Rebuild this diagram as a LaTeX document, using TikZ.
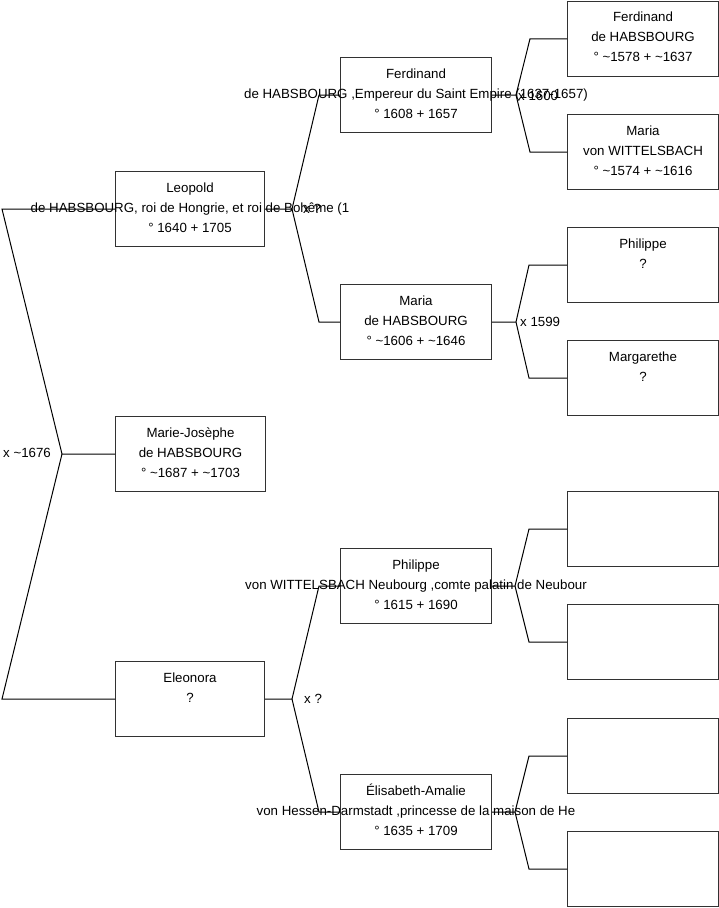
\documentclass[tikz,border=0pt]{standalone}
\usepackage{fontspec}
\setmainfont{Liberation Sans}
\definecolor{boxgray}{RGB}{50,50,50}
\newcommand\tld{\textasciitilde}
\newcommand\pbox[5]{\node[box, minimum width=#4pt, minimum height=#5pt] (#1) at (#2,#3) {};}
\newcommand\pthree[4]{%
  \node[txt] (#1-a) at ([yshift=-21pt]#1.north) {#2};
  \node[txt] (#1-b) at ([yshift=-41pt]#1.north) {#3};
  \node[txt] (#1-c) at ([yshift=-61pt]#1.north) {#4};}
\newcommand\ptwo[3]{%
  \node[txt] (#1-a) at ([yshift=-21pt]#1.north) {#2};
  \node[txt] (#1-b) at ([yshift=-41pt]#1.north) {#3};}
\begin{document}
\begin{tikzpicture}[x=1pt,y=-1pt,
  box/.style={draw=boxgray, line width=1pt, inner sep=0pt, anchor=north west},
  txt/.style={anchor=base, inner sep=0pt, font=\fontsize{13.3}{20}\selectfont, text=black},
  lbl/.style={anchor=base west, inner sep=0pt, font=\fontsize{13.3}{20}\selectfont, text=black},
  link/.style={draw=black, line width=1pt}]
\useasboundingbox (0,0) rectangle (719,908);
% boxes
\pbox{L1}{115}{171}{149}{75}
\pbox{L2}{115}{416}{150}{75}
\pbox{L3}{115}{661}{149}{75}
\pbox{M1}{340}{57}{151}{75}
\pbox{M2}{340}{284}{151}{75}
\pbox{M3}{340}{548}{151}{75}
\pbox{M4}{340}{774}{151}{75}
\pbox{R1}{567}{0.5}{151}{75.5}
\pbox{R2}{567}{114}{151}{75}
\pbox{R3}{567}{227}{151}{75}
\pbox{R4}{567}{340}{151}{75}
\pbox{R5}{567}{491}{151}{75}
\pbox{R6}{567}{604}{151}{75}
\pbox{R7}{567}{718}{151}{75}
\pbox{R8}{567}{831}{151}{75}
% connectors
\draw[link] (L1.west) -- ([xshift=-113pt]L1.west) -- ([xshift=-53pt]L2.west) -- (L2.west);
\draw[link] ([xshift=-53pt]L2.west) -- ([xshift=-113pt]L3.west) -- (L3.west);
\draw[link] (L1.east) -- ([xshift=27pt]L1.east) -- ([xshift=-21pt]M1.west) -- (M1.west);
\draw[link] ([xshift=27pt]L1.east) -- ([xshift=-21pt]M2.west) -- (M2.west);
\draw[link] (L3.east) -- ([xshift=27pt]L3.east) -- ([xshift=-21pt]M3.west) -- (M3.west);
\draw[link] ([xshift=27pt]L3.east) -- ([xshift=-21pt]M4.west) -- (M4.west);
\draw[link] (M1.east) -- ([xshift=24pt]M1.east) -- ([xshift=-37pt]R1.west) -- (R1.west);
\draw[link] ([xshift=24pt]M1.east) -- ([xshift=-37pt]R2.west) -- (R2.west);
\draw[link] (M2.east) -- ([xshift=24pt]M2.east) -- ([xshift=-38pt]R3.west) -- (R3.west);
\draw[link] ([xshift=24pt]M2.east) -- ([xshift=-38pt]R4.west) -- (R4.west);
\draw[link] (M3.east) -- ([xshift=23pt]M3.east) -- ([xshift=-38pt]R5.west) -- (R5.west);
\draw[link] ([xshift=23pt]M3.east) -- ([xshift=-38pt]R6.west) -- (R6.west);
\draw[link] (M4.east) -- ([xshift=23pt]M4.east) -- ([xshift=-38pt]R7.west) -- (R7.west);
\draw[link] ([xshift=23pt]M4.east) -- ([xshift=-38pt]R8.west) -- (R8.west);
% texts
\pthree{L1}{Leopold}{de HABSBOURG, roi de Hongrie, et roi de Bohême (1}{° 1640 + 1705}
\pthree{L2}{Marie-Josèphe}{de HABSBOURG}{° \tld1687 + \tld1703}
\ptwo{L3}{Eleonora}{?}
\pthree{M1}{Ferdinand}{de HABSBOURG ,Empereur du Saint Empire (1637-1657)}{° 1608 + 1657}
\pthree{M2}{Maria}{de HABSBOURG}{° \tld1606 + \tld1646}
\pthree{M3}{Philippe}{von WITTELSBACH Neubourg ,comte palatin de Neubour}{° 1615 + 1690}
\pthree{M4}{Élisabeth-Amalie}{von Hessen-Darmstadt ,princesse de la maison de He}{° 1635 + 1709}
\pthree{R1}{Ferdinand}{de HABSBOURG}{° \tld1578 + \tld1637}
\pthree{R2}{Maria}{von WITTELSBACH}{° \tld1574 + \tld1616}
\ptwo{R3}{Philippe}{?}
\ptwo{R4}{Margarethe}{?}
% marriage labels
\node[lbl] (m0) at (3,457) {x \tld1676};
\node[lbl] (m1) at (303,213) {x ?};
\node[lbl] (m2) at (518,100) {x 1600};
\node[lbl] (m3) at (520,326) {x 1599};
\node[lbl] (m4) at (304,703) {x ?};
\end{tikzpicture}
\end{document}
